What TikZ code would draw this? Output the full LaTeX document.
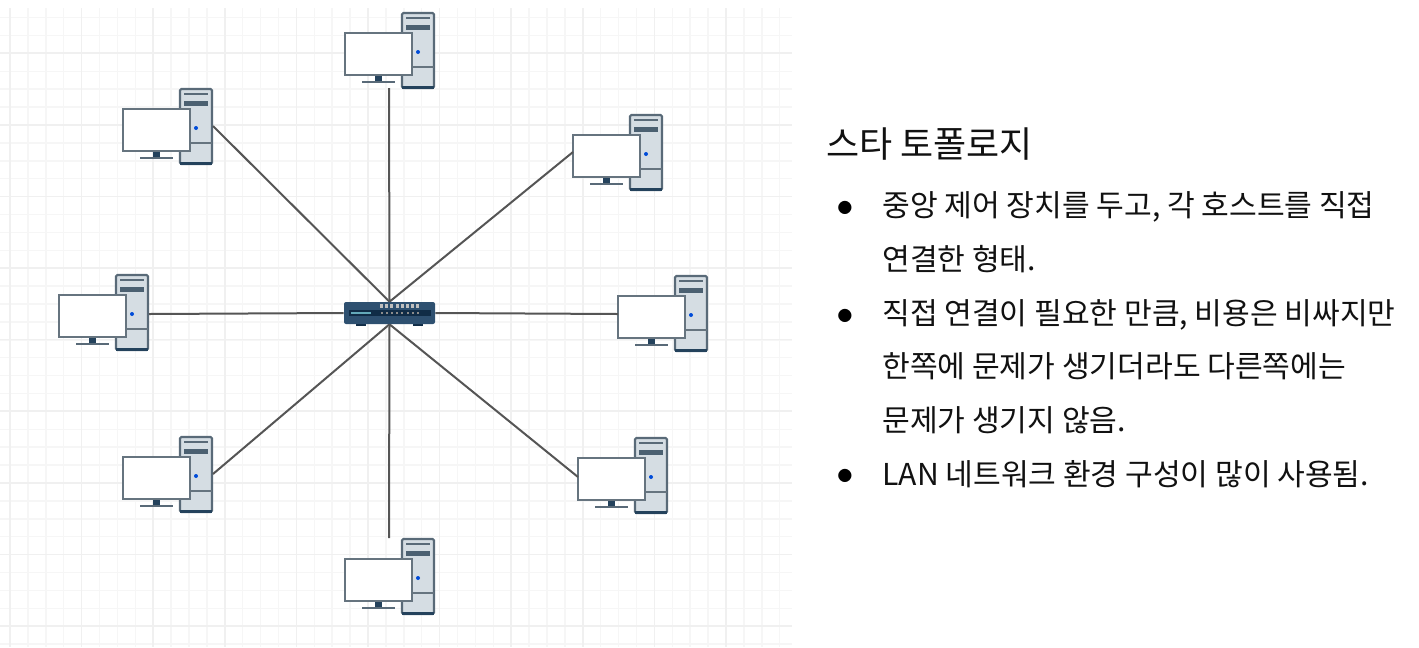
\documentclass[tikz,border=0pt]{standalone}
\usepackage{fontspec}
\setmainfont{Noto Sans CJK KR}
\definecolor{gridminor}{HTML}{F6F6F6}
\definecolor{gridmajor}{HTML}{F0F0F0}
\definecolor{edge}{HTML}{66747F}
\definecolor{towerfill}{HTML}{D5DDE3}
\definecolor{navy}{HTML}{24425C}
\definecolor{swfill}{HTML}{2E5070}
\definecolor{swdark}{HTML}{102C46}
\definecolor{wire}{HTML}{555555}
\definecolor{ink}{HTML}{111111}
\tikzset{
  titletext/.style={anchor=west,inner sep=0pt,text height=22.7pt,text depth=2.2pt,font=\fontsize{27}{32}\selectfont,text=ink},
  bodytext/.style={anchor=west,inner sep=0pt,text height=19pt,text depth=1.8pt,font=\fontsize{22.6}{27}\selectfont,text=ink},
  bullettext/.style={anchor=center,inner sep=0pt,font=\fontsize{11}{12}\selectfont,text=black},
  wirelink/.style={draw=wire,line width=1.5pt},
  pics/computer/.style={code={
    % tower
    \fill[towerfill,draw=edge!80!navy,line width=1.6pt,rounded corners=1pt] (57,-20) rectangle (89,55);
    \fill[navy] (57,52.5) rectangle (89,55.8);
    \fill[edge!80!navy] (61,-16) rectangle (85,-14);
    \fill[edge!60!navy] (61,-8) rectangle (85,-3);
    \draw[edge,line width=0.8pt] (67,34) -- (89,34);
    \fill[blue!65!cyan!85!black] (73,19) circle (2);
    % stand
    \fill[navy] (30,42) rectangle (37,48);
    \fill[edge!80!navy] (17,47.6) rectangle (50,49.8);
    % monitor
    \draw[edge,fill=white,line width=1.2pt] (0,0) rectangle (67,42);
  }}
}
\begin{document}
\begin{tikzpicture}[x=0.75pt,y=-0.75pt]
\useasboundingbox (0,0) rectangle (1419,647);
% grid
\foreach \k in {0,...,43}{
  \pgfmathsetmacro\gx{10+17.9*\k}
  \draw[gridminor,line width=1.1pt] (\gx,8) -- (\gx,647);
}
\foreach \k in {0,...,35}{
  \pgfmathsetmacro\gy{17.9*\k+17.6}
  \draw[gridminor,line width=1.1pt] (0,\gy) -- (792,\gy);
}
\foreach \k in {0,...,10}{
  \pgfmathsetmacro\gx{10+71.6*\k}
  \draw[gridmajor,line width=1.2pt] (\gx,8) -- (\gx,647);
}
\foreach \k in {0,...,8}{
  \pgfmathsetmacro\gy{53.2+71.6*\k}
  \draw[gridmajor,line width=1.2pt] (0,\gy) -- (792,\gy);
}
% computers
\pic at (345,33) {computer};
\pic at (123,109) {computer};
\pic at (573,135) {computer};
\pic at (59,295) {computer};
\pic at (618,296) {computer};
\pic at (123,457) {computer};
\pic at (578,458) {computer};
\pic at (345,559) {computer};
% connector ends at computers
\coordinate (pcT) at (389,88);
\coordinate (pcTL) at (213,126);
\coordinate (pcTR) at (573,152);
\coordinate (pcL) at (149,314);
\coordinate (pcR) at (618,314);
\coordinate (pcBL) at (213,474);
\coordinate (pcBR) at (578,477);
\coordinate (pcB) at (389,538);
% switch
\node[draw=none,minimum width=68.25pt,minimum height=16.5pt,inner sep=0pt] (sw) at (389.5,313) {};
\draw[wirelink] (pcT) -- (sw.north);
\draw[wirelink] (pcTL) -- (sw.north);
\draw[wirelink] (pcTR) -- (sw.north);
\draw[wirelink] (pcL) -- (sw.west);
\draw[wirelink] (pcR) -- (sw.east);
\draw[wirelink] (pcBL) -- (sw.south);
\draw[wirelink] (pcBR) -- (sw.south);
\draw[wirelink] (pcB) -- (sw.south);
\fill[swdark] (356,323) rectangle (366,326);
\fill[swdark] (413,323) rectangle (423,326);
\fill[swfill,rounded corners=1.5pt] (344,302) rectangle (435,324);
\fill[swdark] (349,310) rectangle (431,316);
\fill[swfill!70!cyan!70!white] (351,312) rectangle (371,314);
\foreach \k in {0,...,7}{
  \pgfmathsetmacro\lx{380+5.2*\k}
  \fill[black!25!white] (\lx,303.5) rectangle ++(3,4.5);
  \fill[black!45!white] (\lx+0.5,312) rectangle ++(2,2);
}
% text
\node[titletext] (title) at (826,144) {스타 토폴로지};
\node[bullettext] (b1) at (845,208) {●};
\node[bodytext] (l1) at (882,205) {중앙 제어 장치를 두고, 각 호스트를 직접};
\node[bodytext] (l2) at (882,258.6) {연결한 형태.};
\node[bullettext] (b2) at (845,316) {●};
\node[bodytext] (l3) at (882,312.6) {직접 연결이 필요한 만큼, 비용은 비싸지만};
\node[bodytext] (l4) at (882,366) {한쪽에 문제가 생기더라도 다른쪽에는};
\node[bodytext] (l5) at (882,420) {문제가 생기지 않음.};
\node[bullettext] (b3) at (845,476) {●};
\node[bodytext] (l6) at (882,473.6) {LAN 네트워크 환경 구성이 많이 사용됨.};
\end{tikzpicture}
\end{document}
